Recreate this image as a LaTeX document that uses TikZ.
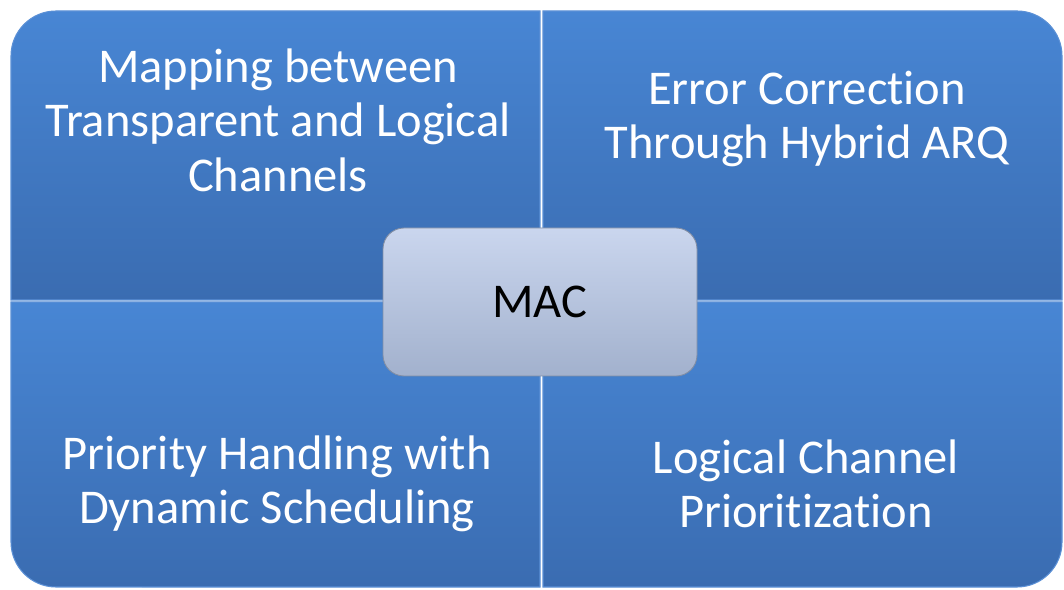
\documentclass[tikz,border=0pt]{standalone}
\usepackage{fontspec}
\setmainfont{Carlito}[Ligatures=NoCommon]
\usetikzlibrary{positioning}
\definecolor{quadtop}{HTML}{4886D4}
\definecolor{quadbot}{HTML}{3A6CB1}
\definecolor{quadline}{HTML}{5B90D6}
\definecolor{mactop}{HTML}{CAD6EE}
\definecolor{macbot}{HTML}{A2B1CD}
\tikzset{font=\fontsize{27.6}{31}\selectfont}
\tikzset{quad/.style={top color=quadtop, bottom color=quadbot, draw=quadline, line width=0.6pt}}
\tikzset{quadtext/.style={text=white, align=center}}
\tikzset{macbox/.style={rounded corners=0.42cm, top color=mactop, bottom color=macbot,
    draw=macbot!80!black, line width=0.5pt, minimum width=6.28cm, minimum height=2.96cm}}

\begin{document}
\begin{tikzpicture}
\useasboundingbox (0,0) rectangle (21.28,11.78);
% four quarters, each with its outer corner rounded
\shade[quad] (0.22,5.78) -- (0.22,10.66) arc[start angle=180, end angle=90, radius=0.9] -- (10.80,11.56) -- (10.80,5.78) -- cycle;
\shade[quad] (10.86,5.78) -- (10.86,11.56) -- (20.34,11.56) arc[start angle=90, end angle=0, radius=0.9] -- (21.24,5.78) -- cycle;
\shade[quad] (0.22,5.74) -- (0.22,0.94) arc[start angle=180, end angle=270, radius=0.9] -- (10.80,0.04) -- (10.80,5.74) -- cycle;
\shade[quad] (10.86,5.74) -- (10.86,0.04) -- (20.34,0.04) arc[start angle=270, end angle=360, radius=0.9] -- (21.24,5.74) -- cycle;
\node[quadtext] (mapping) at (5.56,9.38) {Mapping between\\Transparent and Logical\\Channels};
\node[quadtext] (errcorr) at (16.14,9.40) {Error Correction\\Through Hybrid ARQ};
\node[quadtext] (priority) at (5.54,2.10) {Priority Handling with\\Dynamic Scheduling};
\node[quadtext] (lcprio) at (16.12,2.10) {Logical Channel\\Prioritization};
% centre box
\node[macbox] (mac) at (10.80,5.74) {MAC};
\end{tikzpicture}
\end{document}
